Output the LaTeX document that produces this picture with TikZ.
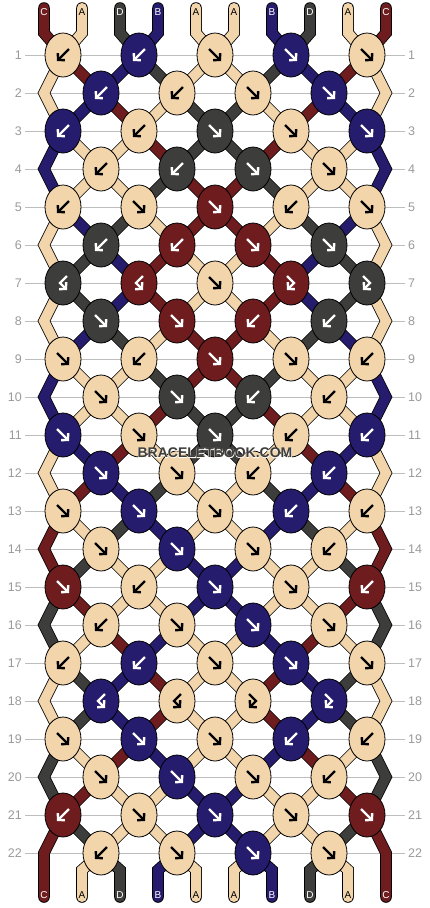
\documentclass[tikz,border=0pt]{standalone}
\usepackage{fontspec}
\setmainfont{Liberation Sans}
\newfontfamily\haloface[FakeBold=5]{Liberation Sans Bold}
\usepackage{tikz}
\usepackage{xcolor}
\usetikzlibrary{shapes.geometric, arrows.meta}

\definecolor{cA}{HTML}{F3D5AC}
\definecolor{cB}{HTML}{261C6D}
\definecolor{cC}{HTML}{6E1C1E}
\definecolor{cD}{HTML}{3D3D3B}
\definecolor{lineGray}{HTML}{BDBDBD}
\definecolor{numGray}{HTML}{9A9A9A}

\begin{document}
\begin{tikzpicture}[x=1pt, y=-1pt,
    string/.style={draw=black, line width=0.8pt, double distance=10pt, line cap=round, line join=miter},
    knot/.style={ellipse, draw=black, line width=0.8pt, minimum width=36pt, minimum height=44pt, inner sep=0pt},
    knot A/.style={fill=cA}, knot B/.style={fill=cB}, knot C/.style={fill=cC}, knot D/.style={fill=cD},
    pen A/.style={black}, pen B/.style={white}, pen C/.style={white}, pen D/.style={white},
    arrow/.style={line width=2.4pt, -{Straight Barb[length=4.5pt, width=10pt]}},
    fw/.pic={\draw[arrow] (-6,-6) -- (6,6);},
    bw/.pic={\draw[arrow] (6,-6) -- (-6,6);},
    fb/.pic={\draw[arrow] (-4,-7) -- (3,0) -- (-4,7);},
    bf/.pic={\draw[arrow] (4,-7) -- (-3,0) -- (4,7);},
    tag/.style={font=\fontsize{10}{10}\selectfont, inner sep=0pt},
    num/.style={numGray, font=\fontsize{12.5}{12.5}\selectfont, inner xsep=3pt},
    rowline/.style={lineGray, line width=1pt},
    wmark/.style={font=\fontsize{14}{14}\selectfont\bfseries, text=cD}
  ]
  \path[fill=white, use as bounding box] (0,0) rectangle (430,908);

  % row numbers, guide lines and places of the knots
  \foreach \row in {1,...,22} {
    \node[num, anchor=east] (numL\row) at (25, 17+38*\row) {\row};
    \node[num, anchor=west] (numR\row) at (405, 17+38*\row) {\row};
    \draw[rowline] (numL\row) -- (numR\row);
    \ifodd\row\relax
      \foreach \k in {1,...,5} \coordinate (k\row-\k) at (76*\k-13, 17+38*\row);
    \else
      \foreach \k in {1,...,4} \coordinate (k\row-\k) at (76*\k+25, 17+38*\row);
      \coordinate (k\row-0) at (44, 17+38*\row);
      \coordinate (k\row-5) at (386, 17+38*\row);
    \fi
  }

  % loose ends of the strings
  \foreach \s in {1,...,10} {
    \coordinate (t\s) at (6+38*\s, 8);
    \coordinate (u\s) at (6+38*\s, 33);
    \coordinate (v\s) at (6+38*\s, 870);
    \coordinate (w\s) at (6+38*\s, 897);
  }

  % strings: knot visited in each row
  \draw[string, double=cC] (t1) -- (u1) \foreach \k [count=\row] in {1,1,2,2,3,3,4,3,3,2,2,1,1,0,1,1,2,2,2,1,1,0} {-- (k\row-\k)} -- (v1) -- (w1);
  \draw[string, double=cA] (t2) -- (u2) \foreach \k [count=\row] in {1,0,1,1,2,2,3,3,4,4,5,5,5,4,4,3,3,2,3,3,4,4} {-- (k\row-\k)} -- (v9) -- (w9);
  \draw[string, double=cD] (t3) -- (u3) \foreach \k [count=\row] in {2,2,3,3,4,4,5,4,4,3,3,2,2,1,1,0,1,1,1,0,1,1} {-- (k\row-\k)} -- (v3) -- (w3);
  \draw[string, double=cB] (t4) -- (u4) \foreach \k [count=\row] in {2,1,1,0,1,1,2,1,1,0,1,1,2,2,3,3,4,4,4,3,3,2} {-- (k\row-\k)} -- (v4) -- (w4);
  \draw[string, double=cA] (t5) -- (u5) \foreach \k [count=\row] in {3,3,4,4,5,5,5,5,5,4,4,3,3,2,2,1,1,0,1,1,2,2} {-- (k\row-\k)} -- (v5) -- (w5);
  \draw[string, double=cA] (t6) -- (u6) \foreach \k [count=\row] in {3,2,2,1,1,0,1,0,1,1,2,2,3,3,4,4,5,5,5,4,4,3} {-- (k\row-\k)} -- (v6) -- (w6);
  \draw[string, double=cB] (t7) -- (u7) \foreach \k [count=\row] in {4,4,5,5,5,4,4,4,5,5,5,4,4,3,3,2,2,1,2,2,3,3} {-- (k\row-\k)} -- (v7) -- (w7);
  \draw[string, double=cD] (t8) -- (u8) \foreach \k [count=\row] in {4,3,3,2,2,1,1,1,2,2,3,3,4,4,5,5,5,4,5,5,5,4} {-- (k\row-\k)} -- (v8) -- (w8);
  \draw[string, double=cA] (t9) -- (u9) \foreach \k [count=\row] in {5,5,5,4,4,3,3,2,2,1,1,0,1,1,2,2,3,3,3,2,2,1} {-- (k\row-\k)} -- (v2) -- (w2);
  \draw[string, double=cC] (t10) -- (u10) \foreach \k [count=\row] in {5,4,4,3,3,2,2,2,3,3,4,4,5,5,5,4,4,3,4,4,5,5} {-- (k\row-\k)} -- (v10) -- (w10);

  \foreach \col [count=\s] in {C,A,D,B,A,A,B,D,A,C} {
    \node[tag, pen \col] (top\s) at (6+38*\s, 12) {\col};
    \node[tag, pen \col] (bot\s) at (6+38*\s, 895) {\col};
  }

  % knots, row by row: colour/kind
  \foreach \kn [count=\row] in {
      {A/bw,B/bw,A/fw,B/fw,A/fw}, {B/bw,A/bw,A/fw,B/fw},
      {B/bw,A/bw,D/fw,A/fw,B/fw}, {A/bw,D/bw,D/fw,A/fw},
      {A/bw,A/fw,C/fw,A/bw,A/fw}, {D/bw,C/bw,C/fw,D/fw},
      {D/bf,C/bf,A/fw,C/fb,D/fb}, {D/fw,C/fw,C/bw,D/bw},
      {A/fw,A/bw,C/fw,A/fw,A/bw}, {A/fw,D/fw,D/bw,A/bw},
      {B/fw,A/fw,D/fw,A/bw,B/bw}, {B/fw,A/fw,A/bw,B/bw},
      {A/fw,B/fw,A/fw,B/bw,A/bw}, {A/fw,B/fw,A/fw,A/bw},
      {C/fw,A/bw,B/fw,A/fw,C/bw}, {A/bw,A/fw,B/fw,A/fw},
      {A/bw,B/bw,A/fw,B/fw,A/fw}, {B/bf,A/bf,A/fb,B/fb},
      {A/fw,B/fw,A/fw,B/bw,A/bw}, {A/fw,B/fw,A/fw,A/bw},
      {C/bw,A/fw,B/fw,A/fw,C/fw}, {A/bw,A/fw,B/fw,A/fw}} {
    \foreach \col/\kind [count=\k] in \kn {
      \node[knot, knot \col] (n\row-\k) at (k\row-\k) {};
      \pic[pen \col] at (k\row-\k) {\kind};
    }
  }

  % watermark with a light halo
  \node[wmark, font=\fontsize{14}{14}\haloface, text=white!85!cA] (halo) at (215, 453) {BRACELETBOOK.COM};
  \node[wmark] (logo) at (215, 453) {BRACELETBOOK.COM};
\end{tikzpicture}
\end{document}
